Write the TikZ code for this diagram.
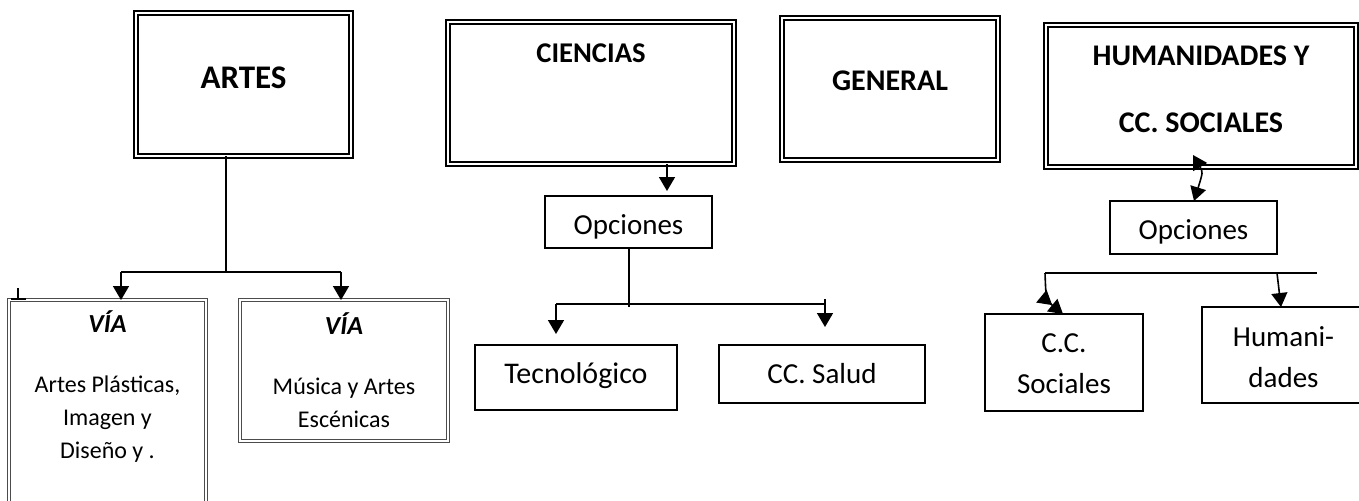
\documentclass[tikz,border=0pt]{standalone}
\usepackage{fontspec}
\setmainfont{Carlito}
\usetikzlibrary{positioning,arrows.meta}

\tikzset{
	areabox/.style = {draw, double, double distance = 1pt, thick, inner sep = 0pt, outer sep = 0pt, anchor = north west, align = center, font = \bfseries\fontsize{15}{18}\selectfont},
	viabox/.style = {draw = black!70, double, double distance = 0.9pt, line width = 0.6pt, inner sep = 0pt, outer sep = 0pt, anchor = north west, align = center, font = \fontsize{12}{16.5}\selectfont},
	optbox/.style = {draw, thick, inner sep = 0pt, outer sep = 0pt, anchor = north west, align = center, font = \fontsize{14.5}{20.5}\selectfont}
}
\newcommand{\viahead}{{\fontsize{13}{16.5}\selectfont\bfseries\itshape VÍA}}

\begin{document}
\begin{tikzpicture}[x = 0.5pt, y = -0.5pt, >= {Triangle[width = 8pt, length = 7pt]}]
	\useasboundingbox (0, 0) rectangle (1359, 500);
	% areas
	\node[areabox, minimum width = 107.5pt, text height = 37.5pt, text depth = 34pt, font = \bfseries\fontsize{16.5}{18}\selectfont] (artes) at (136, 13) {ARTES};
	\node[areabox, minimum width = 143pt, text height = 20pt, text depth = 51pt, font = \bfseries\fontsize{14.3}{18}\selectfont] (cie) at (448, 22) {CIENCIAS};
	\node[areabox, minimum width = 108pt, text height = 36pt, text depth = 35pt] (gen) at (782, 18) {GENERAL};
	\node[areabox, minimum width = 155pt, text height = 53.5pt, text depth = 17.5pt, font = \bfseries\fontsize{15}{33.5}\selectfont] (humsoc) at (1046, 25) {HUMANIDADES Y\\ CC. SOCIALES};
	% vias de artes
	\node[viabox, minimum width = 98.5pt, text height = 79pt, text depth = 36pt] (via1) at (9, 300) {\viahead\\[13.5pt] Artes Plásticas,\\ Imagen y\\ Diseño y .};
	\node[viabox, minimum width = 104pt, text height = 63.5pt, text depth = 7pt] (via2) at (240, 300) {\viahead\\[13.5pt] Música y Artes\\ Escénicas};
	% opciones
	\node[optbox, minimum width = 83.5pt, text height = 19pt, text depth = 7pt] (op1) at (545, 196) {Opciones};
	\node[optbox, minimum width = 101pt, text height = 19pt, text depth = 13.5pt, font = \fontsize{15}{20.5}\selectfont] (tec) at (475, 345) {Tecnológico};
	\node[optbox, minimum width = 103pt, text height = 19pt, text depth = 10pt] (sal) at (719, 345) {CC. Salud};
	\node[optbox, minimum width = 83.5pt, text height = 19pt, text depth = 7.5pt] (op2) at (1110, 201) {Opciones};
	\node[optbox, minimum width = 79pt, text height = 39.5pt, text depth = 9pt] (soc) at (985, 314) {C.C.\\ Sociales};
	\node[optbox, minimum width = 81.5pt, text height = 40pt, text depth = 8pt] (hum) at (1202, 307) {Humani-\\ dades};

	% artes
	\coordinate (artS) at (226, 272);
	\coordinate (artL) at (121, 272);
	\coordinate (artR) at (341, 272);
	\coordinate (stray) at (18, 288);
	\draw[thick] (artes.south -| artS) -- (artS);
	\draw[thick] (artL) -- (artR);
	\path[->, thick] (artL) edge (artL |- via1.north);
	\path[->, thick] (artR) edge (artR |- via2.north);
	\draw[thick, -{Bar[width = 7.5pt]}] (stray) -- (stray |- via1.north);
	% ciencias
	\coordinate (cieA) at (667, 0);
	\coordinate (cieS) at (629, 307);
	\coordinate (cieL) at (556, 304);
	\coordinate (cieR) at (825, 304);
	\path[->, thick] (cie.south -| cieA) edge[shorten >= 2.5pt] (op1.north -| cieA);
	\draw[thick] (op1.south -| cieS) -- (cieS);
	\draw[thick] (cieL) -- (cieR);
	\path[->, thick] (cieL) edge[shorten >= 5.5pt] (cieL |- tec.north);
	\path[->, thick] ([yshift = 2.5pt]cieR) edge[shorten >= 9pt] (cieR |- sal.north);
	% humanidades
	\coordinate (humA) at (1193, 155);
	\coordinate (humB) at (1194, 0);
	\coordinate (humL) at (1045, 273);
	\coordinate (humR) at (1317, 273);
	\coordinate (humC) at (1277, 273);
	\coordinate (socA) at (1063, 0);
	\coordinate (humD) at (1281, 0);
	\draw[<->, thick] (op2.north -| humB) .. controls (1203, 172) .. (humA);
	\draw[thick] (humL) -- (humR);
	\draw[thick, -{Triangle[width = 8pt, length = 7pt] Triangle[width = 8pt, length = 7pt]}] (humL) .. controls (1046, 300) .. (soc.north -| socA);
	\path[->, thick] (humC) edge (hum.north -| humD);
\end{tikzpicture}
\end{document}
